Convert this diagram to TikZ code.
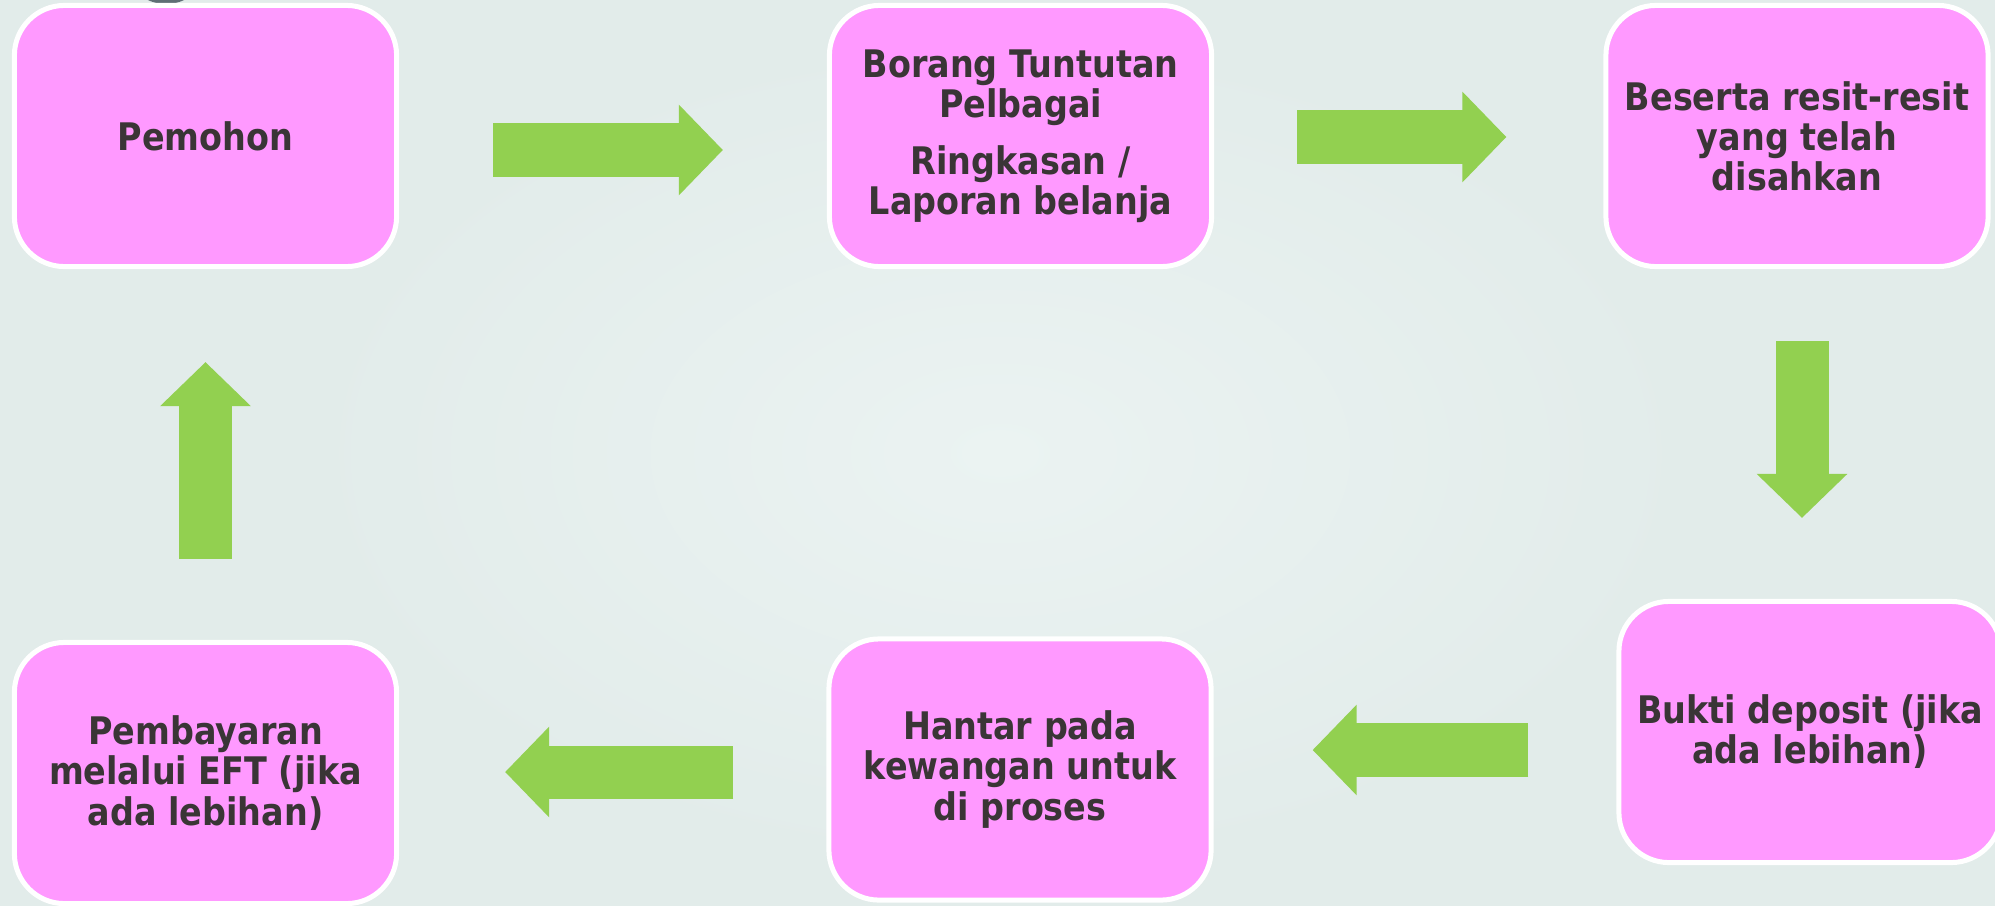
\documentclass[tikz,border=0pt]{standalone}
\usepackage{fontspec}
\setmainfont{DejaVu Sans}[FakeStretch=0.88]
\usetikzlibrary{arrows.meta, positioning}
\definecolor{bgout}{HTML}{E2ECEA}
\definecolor{bgin}{HTML}{EBF3F2}
\definecolor{boxpink}{HTML}{FF99FF}
\definecolor{arrowgreen}{HTML}{92D050}
\definecolor{textgrey}{HTML}{3A3536}
\definecolor{ringgrey}{HTML}{5F6E75}

\begin{document}
\begin{tikzpicture}[x=0.01cm, y=-0.01cm,
  stepbox/.style={draw=white, line width=0.05cm, fill=boxpink, rounded corners=0.5cm,
    minimum width=3.82cm, minimum height=2.61cm, inner sep=0pt, align=center,
    text=textgrey, font=\fontsize{10.8}{11.4}\selectfont\bfseries},
  flowarrow/.style={draw=arrowgreen, line width=0.53cm, -{Triangle[length=0.44cm, width=0.88cm]}}]

  % background
  \useasboundingbox (0,0) rectangle (1995,906);
  \fill[bgout] (0,0) rectangle (1995,906);
  \shade[inner color=bgin, outer color=bgout] (1000,453) ellipse [x radius=700, y radius=420];
  \fill[ringgrey] (166,-22) ellipse [x radius=34, y radius=26];
  \fill[ringgrey!40!white] (166,-24) ellipse [x radius=24, y radius=19];

  % top row
  \node[stepbox] (pemohon) at (205.5,136) {Pemohon};
  \node[stepbox] (borang) at (1020.5,136) {Borang Tuntutan\\Pelbagai\\[4.8pt]Ringkasan /\\Laporan belanja};
  \node[stepbox] (beserta) at (1797,136) {Beserta resit-resit\\yang telah\\disahkan};

  % bottom row
  \node[stepbox] (bukti) at (1810,732) {Bukti deposit (jika\\ada lebihan)};
  \node[stepbox] (hantar) at (1020,769.5) {Hantar pada\\kewangan untuk\\di proses};
  \node[stepbox] (bayar) at (205.5,773) {Pembayaran\\melalui EFT (jika\\ada lebihan)};

  % arrows
  \draw[flowarrow] ([shift={(94,14)}]pemohon.east) -- ([shift={(-104,14)}]borang.west);
  \draw[flowarrow] ([shift={(83,1)}]borang.east) -- ([shift={(-97,1)}]beserta.west);
  \draw[flowarrow] ([shift={(5,72)}]beserta.south) -- ([shift={(-8,-81)}]bukti.north);
  \draw[flowarrow] ([shift={(-88,18)}]bukti.west) -- ([shift={(99,-19.5)}]hantar.east);
  \draw[flowarrow] ([shift={(-93,2.5)}]hantar.west) -- ([shift={(106,-1)}]bayar.east);
  \draw[flowarrow] ([shift={(0,-81)}]bayar.north) -- ([shift={(0,93)}]pemohon.south);
\end{tikzpicture}
\end{document}
